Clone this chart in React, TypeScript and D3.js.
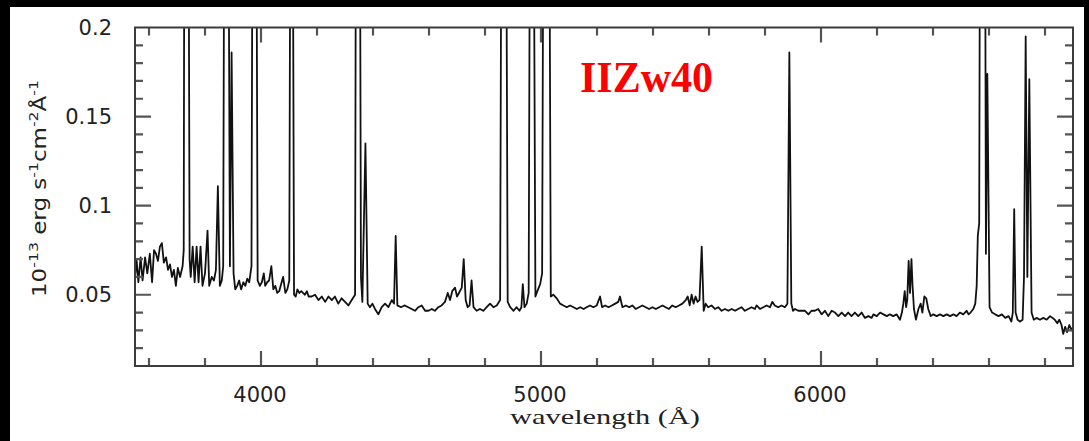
import * as d3 from "d3";

// spectrum of IIZw40 (wavelength in Angstrom, flux in 1e-13 erg/s/cm2/A)
const wavelength = [
  3550, 3556, 3562, 3570, 3577, 3586, 3594, 3603, 3611, 3618, 3625, 3632, 3639, 3646, 3653, 3661,
  3668, 3675, 3682, 3689, 3696, 3703, 3711, 3720, 3724, 3727, 3740, 3745, 3749, 3756, 3763, 3770,
  3777, 3784, 3791, 3800, 3809, 3815, 3824, 3832, 3839, 3846, 3853, 3860, 3865, 3870, 3882, 3889,
  3895, 3902, 3908, 3915, 3922, 3929, 3937, 3944, 3951, 3958, 3966, 3971, 3982, 3988, 3996, 4003,
  4010, 4015, 4022, 4029, 4037, 4044, 4051, 4058, 4065, 4072, 4079, 4087, 4094, 4101, 4106, 4112,
  4118, 4124, 4130, 4137, 4144, 4150, 4157, 4164, 4170, 4181, 4193, 4205, 4217, 4229, 4241, 4253,
  4264, 4276, 4288, 4300, 4312, 4324, 4336, 4340, 4352, 4357, 4362, 4373, 4381, 4389, 4398, 4407,
  4419, 4431, 4443, 4455, 4467, 4475, 4481, 4487, 4500, 4512, 4526, 4538, 4550, 4562, 4574, 4586,
  4598, 4610, 4621, 4633, 4645, 4657, 4667, 4675, 4683, 4693, 4700, 4707, 4717, 4724, 4731, 4738,
  4745, 4752, 4759, 4770, 4782, 4794, 4806, 4818, 4830, 4842, 4854, 4860, 4874, 4881, 4890, 4902,
  4913, 4923, 4930, 4935, 4941, 4949, 4956, 4962, 4972, 4980, 4987, 4997, 5004, 5010, 5028, 5035,
  5044, 5056, 5068, 5080, 5092, 5104, 5116, 5128, 5140, 5152, 5163, 5175, 5187, 5199, 5211, 5218,
  5229, 5241, 5253, 5265, 5276, 5282, 5291, 5303, 5315, 5326, 5338, 5350, 5362, 5374, 5386, 5398,
  5410, 5422, 5434, 5445, 5457, 5469, 5481, 5493, 5505, 5517, 5524, 5531, 5538, 5545, 5552, 5559,
  5566, 5574, 5581, 5588, 5597, 5609, 5621, 5633, 5645, 5657, 5669, 5681, 5693, 5704, 5716, 5728,
  5740, 5752, 5764, 5770, 5782, 5794, 5806, 5818, 5826, 5835, 5847, 5859, 5871, 5880, 5887, 5894,
  5900, 5907, 5919, 5931, 5943, 5955, 5966, 5978, 5990, 6002, 6014, 6026, 6038, 6050, 6062, 6074,
  6086, 6097, 6109, 6121, 6133, 6145, 6157, 6169, 6181, 6187, 6199, 6211, 6223, 6235, 6246, 6258,
  6270, 6282, 6289, 6294, 6299, 6304, 6308, 6313, 6318, 6323, 6327, 6332, 6339, 6348, 6356, 6362,
  6369, 6376, 6383, 6392, 6401, 6413, 6425, 6437, 6449, 6461, 6473, 6484, 6496, 6508, 6520, 6527,
  6534, 6544, 6551, 6556, 6560, 6565, 6569, 6585, 6589, 6594, 6602, 6611, 6622, 6634, 6646, 6658,
  6670, 6680, 6685, 6690, 6695, 6702, 6711, 6720, 6725, 6731, 6737, 6744, 6752, 6760, 6770, 6782,
  6794, 6806, 6818, 6827, 6835, 6844, 6851, 6859, 6865, 6872, 6879, 6887, 6895, 6900,
];
const flux = [
  0.060, 0.069, 0.057, 0.071, 0.058, 0.071, 0.062, 0.073, 0.057, 0.075, 0.073, 0.069, 0.077, 0.079, 0.068, 0.071,
  0.064, 0.067, 0.060, 0.064, 0.055, 0.065, 0.060, 0.066, 0.075, 0.350, 0.350, 0.070, 0.060, 0.077, 0.057, 0.077,
  0.057, 0.077, 0.055, 0.062, 0.086, 0.055, 0.060, 0.058, 0.064, 0.111, 0.055, 0.058, 0.066, 0.350, 0.350, 0.066,
  0.186, 0.062, 0.053, 0.055, 0.058, 0.053, 0.057, 0.055, 0.059, 0.057, 0.066, 0.350, 0.350, 0.058, 0.055, 0.057,
  0.062, 0.055, 0.057, 0.058, 0.066, 0.053, 0.055, 0.051, 0.052, 0.056, 0.060, 0.051, 0.053, 0.058, 0.350, 0.350,
  0.050, 0.049, 0.053, 0.051, 0.052, 0.051, 0.050, 0.052, 0.049, 0.049, 0.050, 0.047, 0.049, 0.046, 0.049, 0.047,
  0.049, 0.045, 0.048, 0.046, 0.044, 0.047, 0.050, 0.350, 0.350, 0.060, 0.046, 0.135, 0.045, 0.043, 0.045, 0.042,
  0.039, 0.043, 0.045, 0.043, 0.047, 0.045, 0.083, 0.044, 0.043, 0.044, 0.043, 0.042, 0.041, 0.043, 0.044, 0.041,
  0.041, 0.042, 0.041, 0.043, 0.044, 0.046, 0.051, 0.047, 0.052, 0.054, 0.049, 0.051, 0.054, 0.070, 0.047, 0.043,
  0.044, 0.058, 0.043, 0.041, 0.042, 0.041, 0.043, 0.045, 0.043, 0.044, 0.047, 0.350, 0.350, 0.046, 0.043, 0.041,
  0.043, 0.041, 0.043, 0.056, 0.043, 0.045, 0.051, 0.350, 0.350, 0.049, 0.052, 0.056, 0.062, 0.350, 0.350, 0.049,
  0.050, 0.048, 0.045, 0.044, 0.043, 0.044, 0.043, 0.042, 0.043, 0.042, 0.043, 0.044, 0.043, 0.044, 0.049, 0.043,
  0.044, 0.043, 0.044, 0.045, 0.046, 0.049, 0.043, 0.044, 0.043, 0.044, 0.042, 0.043, 0.044, 0.043, 0.042, 0.043,
  0.042, 0.043, 0.044, 0.043, 0.042, 0.044, 0.043, 0.044, 0.045, 0.047, 0.049, 0.044, 0.050, 0.045, 0.049, 0.046,
  0.047, 0.077, 0.041, 0.045, 0.043, 0.044, 0.042, 0.043, 0.041, 0.042, 0.041, 0.042, 0.041, 0.042, 0.043, 0.041,
  0.042, 0.043, 0.042, 0.044, 0.042, 0.043, 0.044, 0.043, 0.046, 0.044, 0.043, 0.044, 0.043, 0.045, 0.186, 0.045,
  0.041, 0.042, 0.041, 0.041, 0.041, 0.039, 0.041, 0.041, 0.042, 0.039, 0.041, 0.038, 0.041, 0.040, 0.038, 0.040,
  0.038, 0.040, 0.038, 0.040, 0.038, 0.040, 0.037, 0.038, 0.037, 0.039, 0.038, 0.040, 0.039, 0.038, 0.039, 0.038,
  0.039, 0.036, 0.040, 0.045, 0.052, 0.043, 0.047, 0.069, 0.051, 0.070, 0.055, 0.042, 0.036, 0.042, 0.045, 0.040,
  0.049, 0.048, 0.042, 0.038, 0.039, 0.038, 0.039, 0.038, 0.039, 0.038, 0.039, 0.038, 0.040, 0.039, 0.041, 0.039,
  0.040, 0.042, 0.045, 0.055, 0.083, 0.090, 0.350, 0.350, 0.073, 0.174, 0.043, 0.040, 0.039, 0.038, 0.039, 0.037,
  0.038, 0.035, 0.040, 0.098, 0.040, 0.036, 0.035, 0.036, 0.060, 0.195, 0.060, 0.171, 0.040, 0.036, 0.037, 0.036,
  0.037, 0.036, 0.038, 0.037, 0.036, 0.034, 0.036, 0.033, 0.028, 0.032, 0.029, 0.033, 0.030, 0.032,
];

const xLabels = ["4000", "5000", "6000"];
const yLabels = ["0.05", "0.1", "0.15", "0.2"];
const xMinor = [3600, 3800, 4000, 4200, 4400, 4600, 4800, 5000, 5200, 5400, 5600, 5800, 6000, 6200, 6400, 6600, 6800];
const yMinor = [0.02, 0.03, 0.04, 0.05, 0.06, 0.07, 0.08, 0.09, 0.1, 0.11, 0.12, 0.13, 0.14, 0.15, 0.16, 0.17, 0.18, 0.19];

const W = 1089;
const H = 441;
const plotL = 135;
const plotR = 1073;
const plotT = 27.5;
const plotB = 366;

export default function App() {
  const x = d3.scaleLinear().domain([3550, 6900]).range([plotL, plotR]);
  const y = d3.scaleLinear().domain([0.01, 0.2]).range([plotB, plotT]);
  const points: [number, number][] = wavelength.map((w, i) => [w, flux[i]]);
  const spectrum = d3
    .line<[number, number]>()
    .x((d) => x(d[0]))
    .y((d) => y(d[1]));

  // inward ticks on all four sides, longer at the labelled values
  let tickPath = "";
  xMinor.forEach((v) => {
    const len = xLabels.includes(String(v)) ? 15 : 8;
    const px = x(v);
    tickPath += `M${px},${plotB}V${plotB - len}M${px},${plotT}V${plotT + len}`;
  });
  yMinor.forEach((v) => {
    const len = yLabels.includes(String(v)) ? 16 : 8;
    const py = y(v);
    tickPath += `M${plotL},${py}H${plotL + len}M${plotR},${py}H${plotR - len}`;
  });

  const axisColor = "#3c3c3c";
  const tickFont = "'DejaVu Sans', sans-serif";
  const sup = { fontSize: 13 };

  return (
    <svg
      width={W}
      height={H}
      style={{ position: "absolute", left: 0, top: 0, display: "block" }}
    >
      <rect x={0} y={0} width={W} height={H} fill="#000" />
      <rect x={10} y={7} width={1074} height={434} fill="#fff" />
      <defs>
        <clipPath id="plot">
          <rect x={plotL} y={plotT} width={plotR - plotL} height={plotB - plotT} />
        </clipPath>
      </defs>

      <path
        d={spectrum(points) || ""}
        fill="none"
        stroke="#111"
        strokeWidth={1.8}
        strokeLinejoin="round"
        clipPath="url(#plot)"
      />

      <path d={tickPath} fill="none" stroke="#555" strokeWidth={2.2} />

      {/* frame */}
      <rect
        x={plotL}
        y={plotT}
        width={plotR - plotL}
        height={plotB - plotT}
        fill="none"
        stroke={axisColor}
        strokeWidth={2}
      />

      {xLabels.map((t) => (
        <text
          key={"xl" + t}
          x={x(+t) - 1}
          y={401.5}
          textAnchor="middle"
          fontFamily={tickFont}
          fontSize={21}
          fill="#222"
        >
          {t}
        </text>
      ))}
      {yLabels.map((t) => (
        <text
          key={"yl" + t}
          x={112}
          y={y(+t) + 7.5}
          textAnchor="end"
          fontFamily={tickFont}
          fontSize={21}
          fill="#222"
        >
          {t}
        </text>
      ))}

      <text
        transform="translate(46,188.5) rotate(-90)"
        textAnchor="middle"
        fontFamily={tickFont}
        fontSize={19}
        textLength={217}
        lengthAdjust="spacingAndGlyphs"
        fill="#222"
      >
        10
        <tspan dy={-8} style={sup}>-13</tspan>
        <tspan dy={8}> erg s</tspan>
        <tspan dy={-8} style={sup}>-1</tspan>
        <tspan dy={8}>cm</tspan>
        <tspan dy={-8} style={sup}>-2</tspan>
        <tspan dy={8}>Å</tspan>
        <tspan dy={-8} style={sup}>-1</tspan>
      </text>

      <text
        x={605}
        y={424}
        textAnchor="middle"
        fontFamily="'Liberation Serif', serif"
        fontSize={21}
        textLength={190}
        lengthAdjust="spacingAndGlyphs"
        fill="#222"
      >
        wavelength (Å)
      </text>

      <text
        x={580}
        y={91.7}
        fontFamily="'Liberation Serif', serif"
        fontWeight="bold"
        fontSize={45}
        textLength={133}
        lengthAdjust="spacingAndGlyphs"
        fill="#ff0000"
      >
        IIZw40
      </text>
    </svg>
  );
}
